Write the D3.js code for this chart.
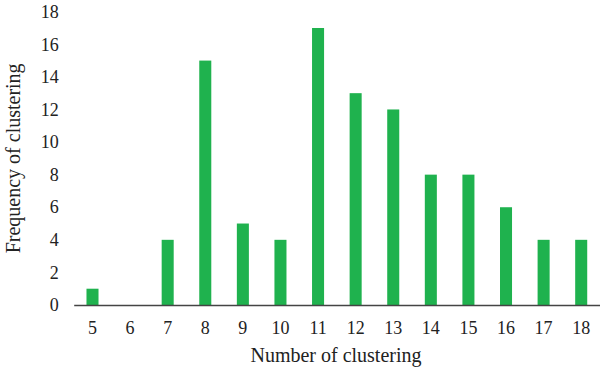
<!DOCTYPE html>
<html lang="en">
  <head>
    <meta charset="UTF-8" />
    <title>Frequency of clustering</title>
    <style>
      body { margin: 0; background: #fff; }
      text { font-family: "Liberation Serif", "DejaVu Serif", serif; }
    </style>
  </head>
  <body>
    <div id="chart"></div>
    <script src="https://cdn.jsdelivr.net/npm/d3@7"></script>
    <script>
      const categories = ["5", "6", "7", "8", "9", "10", "11", "12", "13", "14", "15", "16", "17", "18"];
      const frequency = [1, 0, 4, 15, 5, 4, 17, 13, 12, 8, 8, 6, 4, 4];
      const yTicks = [0, 2, 4, 6, 8, 10, 12, 14, 16, 18];

      const width = 600, height = 370;
      const margin = { top: 11.7, right: 0, bottom: 65, left: 73.7 };

      const svg = d3.select("#chart").append("svg")
        .attr("width", width)
        .attr("height", height);

      const x = d3.scaleBand()
        .domain(categories)
        .range([margin.left, width - margin.right])
        .paddingInner(0.68)
        .paddingOuter(0.34);

      const y = d3.scaleLinear()
        .domain([0, 18])
        .range([height - margin.bottom, margin.top]);

      // bars
      svg.append("g")
        .selectAll("rect")
        .data(frequency)
        .join("rect")
        .attr("x", (d, i) => x(categories[i]))
        .attr("y", d => y(d))
        .attr("width", x.bandwidth())
        .attr("height", d => y(0) - y(d))
        .attr("fill", "#1fb24e");

      // y axis (labels only)
      const yAxis = svg.append("g")
        .attr("transform", `translate(${margin.left - 15},0)`)
        .call(d3.axisLeft(y).tickValues(yTicks).tickSize(0).tickPadding(0));
      yAxis.select(".domain").remove();
      yAxis.selectAll("text")
        .attr("font-size", 18)
        .attr("fill", "#222")
        .style("font-family", "'Liberation Serif', serif");

      // x axis
      const xAxis = svg.append("g")
        .attr("transform", `translate(0,${y(0)})`)
        .call(d3.axisBottom(x).tickSize(0).tickPadding(16));
      xAxis.select(".domain")
        .attr("stroke", "#444")
        .attr("stroke-width", 1.5);
      xAxis.selectAll("text")
        .attr("font-size", 18)
        .attr("fill", "#222")
        .style("font-family", "'Liberation Serif', serif");

      // axis titles
      svg.append("text")
        .attr("x", 336)
        .attr("y", 362)
        .attr("text-anchor", "middle")
        .attr("font-size", 20)
        .attr("fill", "#222")
        .text("Number of clustering");

      svg.append("text")
        .attr("transform", `translate(20,${(margin.top + y(0)) / 2}) rotate(-90)`)
        .attr("text-anchor", "middle")
        .attr("font-size", 20)
        .attr("fill", "#222")
        .text("Frequency of clustering");
    </script>
  </body>
</html>
